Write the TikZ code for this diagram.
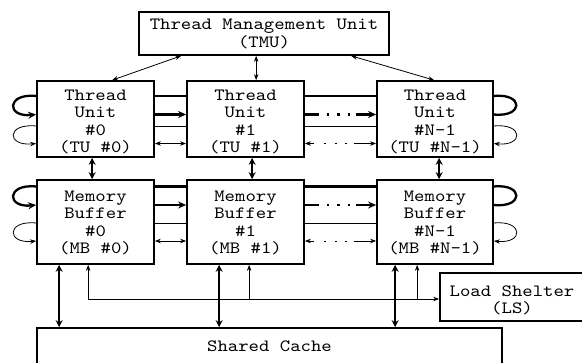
\documentclass[tikz,border=0pt]{standalone}
\usepackage{fontspec}
\newfontfamily\stretchmono[FakeStretch=1.15]{lmmono10-regular.otf}
\usetikzlibrary{arrows.meta,calc}
\begin{document}
\begin{tikzpicture}[x=1pt,y=-1pt,
  boxnode/.style={draw,line width=1.7pt,inner sep=0pt},
  txt/.style={font=\stretchmono\fontsize{17.2}{17.4}\selectfont,align=center,inner sep=0pt},
  thickc/.style={line width=2.3pt},
  thinc/.style={line width=0.8pt},
  bigtip/.style={-{Stealth[length=8pt,width=7pt]}},
  bigdbl/.style={{Stealth[length=7pt,width=7pt]}-{Stealth[length=7pt,width=7pt]}},
  smalltip/.style={-{Stealth[length=6pt,width=4.5pt]}},
  smalldbl/.style={{Stealth[length=6pt,width=4.5pt]}-{Stealth[length=6pt,width=4.5pt]}},
  dotsthick/.style={dash pattern=on 14pt off 8pt on 2.5pt off 8pt on 2.5pt off 8pt on 2.5pt off 6pt on 100pt},
  dotsthin/.style={dash pattern=on 5pt off 10pt on 2pt off 9pt on 2pt off 8pt on 2pt off 7pt on 100pt}
]
\useasboundingbox (0,0) rectangle (582,363);

% boxes
\node[boxnode,minimum width=250pt,minimum height=43pt] (TMU) at (264,33.5) {};
\node[txt] (TMUt) at (264,34) {Thread Management Unit\\(TMU)};

\node[boxnode,minimum width=117pt,minimum height=76pt] (TU0) at (95.5,119) {};
\node[txt] (TU0t) at (95.5,122) {Thread\\Unit\\\#0\\(TU \#0)};
\node[boxnode,minimum width=117pt,minimum height=76pt] (TU1) at (245.5,119) {};
\node[txt] (TU1t) at (245.5,122) {Thread\\Unit\\\#1\\(TU \#1)};
\node[boxnode,minimum width=116pt,minimum height=76pt] (TUN) at (435,119) {};
\node[txt] (TUNt) at (435,122) {Thread\\Unit\\\#N-1\\(TU \#N-1)};

\node[boxnode,minimum width=117pt,minimum height=84pt] (MB0) at (95.5,222) {};
\node[txt] (MB0t) at (95.5,223) {Memory\\Buffer\\\#0\\(MB \#0)};
\node[boxnode,minimum width=117pt,minimum height=84pt] (MB1) at (245.5,222) {};
\node[txt] (MB1t) at (245.5,223) {Memory\\Buffer\\\#1\\(MB \#1)};
\node[boxnode,minimum width=116pt,minimum height=84pt] (MBN) at (435,222) {};
\node[txt] (MBNt) at (435,223) {Memory\\Buffer\\\#N-1\\(MB \#N-1)};

\node[boxnode,minimum width=144pt,minimum height=48pt] (LS) at (512,297) {};
\node[txt] (LSt) at (512,300.5) {Load Shelter\\(LS)};

\node[boxnode,minimum width=465pt,minimum height=36pt] (SC) at (269.5,346) {};
\node[txt] (SCt) at (269.5,346) {Shared Cache};

% row levels
\coordinate (ta) at (0,96);
\coordinate (tb) at (0,114.5);
\coordinate (tc) at (0,126);
\coordinate (td) at (0,143.5);
\coordinate (ma) at (0,186.5);
\coordinate (mb) at (0,205);
\coordinate (mc) at (0,223);
\coordinate (md) at (0,241);

% TMU connectors
\draw[thinc,smalldbl] ($(TMU.south west)+(43,0)$) -- ($(TU0.north west)+(76,0)$);
\draw[thinc,smalldbl] ($(TMU.south west)+(118,0)$) -- ($(TU1.north west)+(70,0)$);
\draw[thinc,smalldbl] ($(TMU.south west)+(213,0)$) -- ($(TUN.north west)+(58,0)$);

% TU row horizontals
\draw[thickc] (TU0.east |- ta) -- (TU1.west |- ta);
\draw[thickc,bigtip] (TU0.east |- tb) -- (TU1.west |- tb);
\draw[thinc] (TU0.east |- tc) -- (TU1.west |- tc);
\draw[thinc,smalldbl] (TU0.east |- td) -- (TU1.west |- td);
\draw[thickc] (TU1.east |- ta) -- (TUN.west |- ta);
\draw[thickc,bigtip,dotsthick] (TU1.east |- tb) -- (TUN.west |- tb);
\draw[thinc] (TU1.east |- tc) -- (TUN.west |- tc);
\draw[thinc,smalldbl,dotsthin] (TU1.east |- td) -- (TUN.west |- td);

% MB row horizontals
\draw[thickc] (MB0.east |- ma) -- (MB1.west |- ma);
\draw[thickc,bigtip] (MB0.east |- mb) -- (MB1.west |- mb);
\draw[thinc] (MB0.east |- mc) -- (MB1.west |- mc);
\draw[thinc,smalldbl] (MB0.east |- md) -- (MB1.west |- md);
\draw[thickc] (MB1.east |- ma) -- (MBN.west |- ma);
\draw[thickc,bigtip,dotsthick] (MB1.east |- mb) -- (MBN.west |- mb);
\draw[thinc] (MB1.east |- mc) -- (MBN.west |- mc);
\draw[thinc,smalldbl,dotsthin] (MB1.east |- md) -- (MBN.west |- md);

% self loops
\draw[thickc,bigtip] (TU0.west |- ta) .. controls +(-30,-3) and +(-30,3) .. (TU0.west |- tb);
\draw[thinc,smalltip] (TU0.west |- tc) .. controls +(-30,-3) and +(-30,3) .. (TU0.west |- td);
\draw[thickc] (TUN.east |- ta) .. controls +(30,-3) and +(30,3) .. (TUN.east |- tb);
\draw[thinc,smalltip] (TUN.east |- tc) .. controls +(30,-3) and +(30,3) .. (TUN.east |- td);
\draw[thickc,bigtip] (MB0.west |- ma) .. controls +(-30,-3) and +(-30,3) .. (MB0.west |- mb);
\draw[thinc,smalltip] (MB0.west |- mc) .. controls +(-30,-3) and +(-30,3) .. (MB0.west |- md);
\draw[thickc] (MBN.east |- ma) .. controls +(30,-3) and +(30,3) .. (MBN.east |- mb);
\draw[thinc,smalltip] (MBN.east |- mc) .. controls +(30,-3) and +(30,3) .. (MBN.east |- md);

% TU <-> MB
\draw[thickc,bigdbl] ($(TU0.south west)+(56,0)$) -- ($(MB0.north west)+(56,0)$);
\draw[thickc,bigdbl] ($(TU1.south west)+(66,0)$) -- ($(MB1.north west)+(66,0)$);
\draw[thickc,bigdbl] ($(TUN.south west)+(63,0)$) -- ($(MBN.north west)+(63,0)$);

% MB <-> Shared Cache
\coordinate (c0) at ($(MB0.south west)+(23,0)$);
\coordinate (c1) at ($(MB1.south west)+(33,0)$);
\coordinate (cN) at ($(MBN.south west)+(19,0)$);
\draw[thickc,bigdbl] (c0) -- (c0 |- SC.north);
\draw[thickc,bigdbl] (c1) -- (c1 |- SC.north);
\draw[thickc,bigdbl] (cN) -- (cN |- SC.north);

% Load Shelter network
\coordinate (hy) at (0,299);
\coordinate (l0) at ($(MB0.south west)+(52,0)$);
\coordinate (l1) at ($(MB1.south west)+(63,0)$);
\coordinate (lN) at ($(MBN.south west)+(41,0)$);
\draw[thinc,smalltip] (l0 |- hy) -- (l0);
\draw[thinc,smalltip] (l1 |- hy) -- (l1);
\draw[thinc,smalltip] (lN |- hy) -- (lN);
\draw[thinc,smalltip] (l0 |- hy) -- (LS.west |- hy);
\end{tikzpicture}
\end{document}
